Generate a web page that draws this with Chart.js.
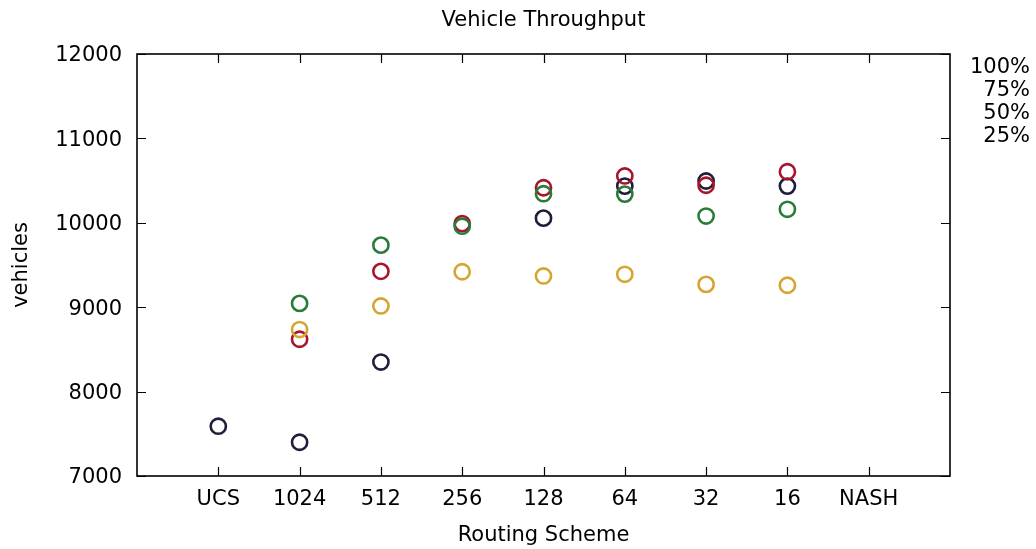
<!DOCTYPE html>
<html>
<head>
<meta charset="utf-8">
<title>Vehicle Throughput</title>
<script src="https://cdn.jsdelivr.net/npm/chart.js@4/dist/chart.umd.min.js"></script>
<style>
  html, body { margin: 0; padding: 0; background: #ffffff; }
  #wrap { width: 1036px; height: 549px; }
</style>
</head>
<body>
<div id="wrap"><canvas id="chart" width="1036" height="549"></canvas></div>
<script>
// Routing schemes along the x axis
const schemes = ['UCS', '1024', '512', '256', '128', '64', '32', '16', 'NASH'];

// Throughput (vehicles) per scheme, one array per load level; null = no run
const load100 = [7590, 7400, 8350, null, 10055, 10435, 10495, 10435, null];
const load75  = [null, 8620, 9425, 9990, 10415, 10555, 10445, 10605, null];
const load50  = [null, 9045, 9735, 9960, 10345, 10340, 10080, 10160, null];
const load25  = [null, 8735, 9015, 9420, 9370, 9390, 9270, 9260, null];

const yTicks = [7000, 8000, 9000, 10000, 11000, 12000];

const FONT = "'DejaVu Sans', 'Liberation Sans', sans-serif";
const FONT_SIZE = 21;
const INK = '#000000';

function toPoints(values) {
  return values.map((v, i) => ({ x: i, y: v }));
}

const series = [
  { label: '100%', values: load100, color: '#1e1e3a' },
  { label: '75%',  values: load75,  color: '#a8142c' },
  { label: '50%',  values: load50,  color: '#2a7a38' },
  { label: '25%',  values: load25,  color: '#d6a531' }
];

// later series are painted over earlier ones
const datasets = series.map((s, i) => ({
  label: s.label,
  data: toPoints(s.values),
  showLine: false,
  pointStyle: 'circle',
  pointRadius: 7.6,
  pointHoverRadius: 7.6,
  pointBorderWidth: 2.6,
  pointBackgroundColor: 'rgba(0,0,0,0)',
  pointBorderColor: s.color,
  borderColor: s.color,
  backgroundColor: 'rgba(0,0,0,0)',
  order: series.length - i
}));

// frame, inward ticks on all four sides, title, axis titles and key
const framePlugin = {
  id: 'frame',
  afterDatasetsDraw(chart) {
    const { ctx, chartArea: a, scales } = chart;
    const xs = scales.x, ys = scales.y;
    const tick = 9;
    ctx.save();
    ctx.strokeStyle = INK;
    ctx.lineWidth = 1.2;
    ctx.beginPath();
    for (let i = 0; i < schemes.length; i++) {
      const px = Math.round(xs.getPixelForValue(i)) + 0.5;
      ctx.moveTo(px, a.bottom); ctx.lineTo(px, a.bottom - tick);
      ctx.moveTo(px, a.top); ctx.lineTo(px, a.top + tick);
    }
    yTicks.forEach(v => {
      const py = Math.round(ys.getPixelForValue(v)) + 0.5;
      ctx.moveTo(a.left, py); ctx.lineTo(a.left + tick, py);
      ctx.moveTo(a.right, py); ctx.lineTo(a.right - tick, py);
    });
    ctx.stroke();
    ctx.lineWidth = 1.6;
    ctx.strokeRect(a.left, a.top, a.right - a.left, a.bottom - a.top);

    ctx.fillStyle = INK;
    ctx.font = FONT_SIZE + 'px ' + FONT;
    ctx.textAlign = 'center';
    ctx.textBaseline = 'middle';
    ctx.fillText('Vehicle Throughput', (a.left + a.right) / 2, 21);
    ctx.fillText('Routing Scheme', (a.left + a.right) / 2, 536);

    ctx.save();
    ctx.translate(22, (a.top + a.bottom) / 2);
    ctx.rotate(-Math.PI / 2);
    ctx.fillText('vehicles', 0, 0);
    ctx.restore();

    ctx.textAlign = 'right';
    chart.data.datasets.forEach((d, i) => {
      ctx.fillText(d.label, 1030, 68 + i * 23);
    });
    ctx.restore();
  }
};

new Chart(document.getElementById('chart'), {
  type: 'scatter',
  data: { datasets },
  options: {
    responsive: false,
    animation: false,
    devicePixelRatio: 1,
    layout: { padding: { left: 0, right: 86, top: 54, bottom: 0 } },
    plugins: {
      legend: { display: false },
      title: { display: false },
      tooltip: { enabled: false }
    },
    scales: {
      x: {
        type: 'linear',
        min: -1,
        max: 9,
        afterFit(scale) { scale.height = 73; },
        afterBuildTicks(scale) {
          scale.ticks = schemes.map((_, i) => ({ value: i }));
        },
        grid: { display: false, drawTicks: false },
        border: { display: false },
        ticks: {
          autoSkip: false,
          maxRotation: 0,
          padding: 11,
          color: INK,
          font: { family: FONT, size: FONT_SIZE },
          callback: v => schemes[v] ?? ''
        }
      },
      y: {
        type: 'linear',
        min: 7000,
        max: 12000,
        afterFit(scale) { scale.width = 137; },
        afterBuildTicks(scale) {
          scale.ticks = yTicks.map(v => ({ value: v }));
        },
        grid: { display: false, drawTicks: false },
        border: { display: false },
        ticks: {
          padding: 15,
          labelOffset: 2,
          color: INK,
          font: { family: FONT, size: FONT_SIZE },
          callback: v => String(v)
        }
      }
    }
  },
  plugins: [framePlugin]
});
</script>
</body>
</html>
